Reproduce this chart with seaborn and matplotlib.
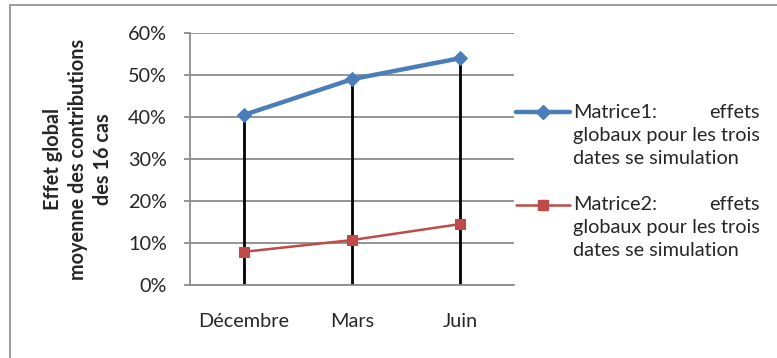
import matplotlib
matplotlib.use("Agg")
import matplotlib.pyplot as plt
import seaborn as sns
import pandas as pd
from matplotlib.lines import Line2D
from matplotlib.patches import Rectangle
from matplotlib.ticker import PercentFormatter

# data
dates = ["Décembre", "Mars", "Juin"]
matrice1 = [0.405, 0.490, 0.540]
matrice2 = [0.079, 0.107, 0.145]
yticks = [0.0, 0.1, 0.2, 0.3, 0.4, 0.5, 0.6]

label1 = ["Matrice1:", "effets", "globaux pour les trois", "dates se simulation"]
label2 = ["Matrice2:", "effets", "globaux pour les trois", "dates se simulation"]

blue = "#4A7EBB"
red = "#BE4B48"
grid_gray = "#8C8C8C"

sns.set_style("white")
plt.rcParams["font.family"] = ["Lato", "DejaVu Sans"]
fs = 14.3

df = pd.DataFrame({"date": dates, "m1": matrice1, "m2": matrice2})

fig = plt.figure(figsize=(7.77, 3.58), dpi=100)
ax = fig.add_axes([190 / 777, 1 - 285 / 358, 324 / 777, 252 / 358])

# drop lines from the top series down to the axis
ax.vlines(range(len(dates)), 0, df["m1"], color="black", lw=2, zorder=2)

sns.lineplot(data=df, x="date", y="m1", ax=ax, color=blue, lw=3.2,
             marker="D", markersize=7, markeredgecolor=blue, zorder=4)
sns.lineplot(data=df, x="date", y="m2", ax=ax, color=red, lw=1.8,
             marker="s", markersize=7, markeredgecolor=red, zorder=3)

ax.set_xlim(-0.5, 2.5)
ax.set_ylim(0, 0.6)
ax.set_yticks(yticks)
ax.yaxis.set_major_formatter(PercentFormatter(1.0, decimals=0))
ax.grid(axis="y", color=grid_gray, lw=1.3)
ax.set_axisbelow(True)
for s in ["top", "right"]:
    ax.spines[s].set_visible(False)
for s in ["left", "bottom"]:
    ax.spines[s].set_color(grid_gray)
    ax.spines[s].set_linewidth(1.3)
ax.tick_params(axis="y", left=True, length=4.5, color=grid_gray, width=1.3,
               labelsize=fs, pad=12)
ax.tick_params(axis="x", bottom=False, labelsize=fs, pad=17)
ax.set_xlabel("")
ax.set_ylabel("Effet global\nmoyenne des contributions\ndes 16 cas",
              fontsize=fs, fontweight="bold", linespacing=1.3)
ax.yaxis.set_label_coords(-0.238, 0.5)

# outer frame like the original chart object
fig.patches.append(Rectangle((10 / 777, -0.1), 1.2, 1.1 - 5 / 358,
                             transform=fig.transFigure, fill=False,
                             edgecolor="#8C8C8C", lw=1.2))

# legend on the right, drawn by hand to keep justified text
fig.canvas.draw()
renderer = fig.canvas.get_renderer()
x_text = 573 / 777
line_h = 23 / 358
for top_y, lab, col, mk, lw in [(112, label1, blue, "D", 3.2),
                                (205, label2, red, "s", 1.8)]:
    yf = 1 - top_y / 358
    fig.add_artist(Line2D([516 / 777, 570 / 777], [yf, yf], color=col, lw=lw,
                          transform=fig.transFigure))
    fig.add_artist(Line2D([543 / 777], [yf], color=col, marker=mk,
                          markersize=7, transform=fig.transFigure))
    fig.text(x_text, yf, lab[0], fontsize=fs, va="center", ha="left")
    t2 = fig.text(x_text, yf - line_h, lab[2], fontsize=fs, va="center", ha="left")
    fig.text(x_text, yf - 2 * line_h, lab[3], fontsize=fs, va="center", ha="left")
    bb = t2.get_window_extent(renderer)
    x_right = bb.x1 / fig.bbox.width
    fig.text(x_right, yf, lab[1], fontsize=fs, va="center", ha="right")

fig.savefig("out.png", dpi=100, facecolor="white")
